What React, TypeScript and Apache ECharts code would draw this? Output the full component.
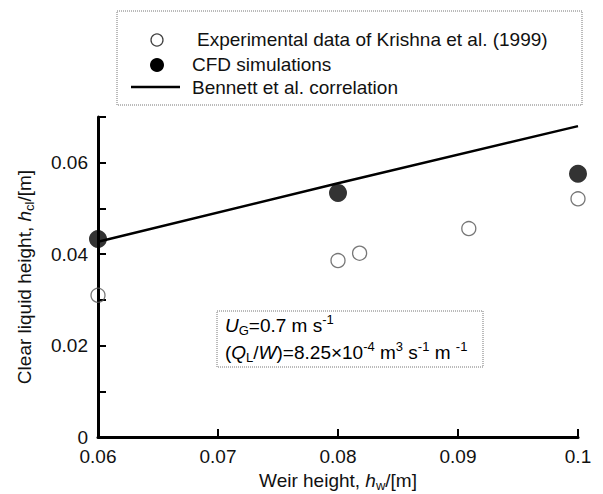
import React, { useEffect, useRef } from "react";
import * as echarts from "echarts";

const FONT = "'Liberation Sans', Arial, Helvetica, sans-serif";

const xTicks = [0.06, 0.07, 0.08, 0.09, 0.1];
const yTicks = [0, 0.01, 0.02, 0.03, 0.04, 0.05, 0.06, 0.07];

const experimentalX = [0.06, 0.08, 0.0818, 0.0909, 0.1];
const experimentalY = [0.031, 0.0386, 0.0402, 0.0456, 0.0521];

const cfdX = [0.06, 0.08, 0.1];
const cfdY = [0.0433, 0.0534, 0.0576];

const bennettX = [0.06, 0.08, 0.1];
const bennettY = [0.0427, 0.0555, 0.068];

const legendLabels = [
  "Experimental data of Krishna et al. (1999)",
  "CFD simulations",
  "Bennett et al. correlation",
];

const fmt = (v: number) => String(+v.toFixed(2));

export default function App() {
  const ref = useRef<HTMLDivElement>(null);
  useEffect(() => {
    if (!ref.current) return;
    const chart = echarts.init(ref.current, null, { renderer: "svg" });
    const base = { fontFamily: FONT, fontSize: 19, color: "#111" };
    const rich = {
      n: { ...base, lineHeight: 24 },
      i: { ...base, fontStyle: "italic", lineHeight: 24 },
      sub: { ...base, fontSize: 13, verticalAlign: "bottom", lineHeight: 13 },
      sup: { ...base, fontSize: 13, verticalAlign: "top", lineHeight: 13 },
    };
    chart.setOption({
      animation: false,
      backgroundColor: "#fff",
      grid: {
        left: 98,
        right: 25,
        top: 117,
        bottom: 57,
        containLabel: false,
        outerBoundsMode: "none",
      },
      xAxis: {
        type: "value",
        min: xTicks[0],
        max: xTicks[xTicks.length - 1],
        interval: 0.01,
        name: "{n|Weir height, }{i|h}{sub|w}{n|/[m]}",
        nameLocation: "middle",
        nameGap: 30,
        nameTextStyle: { rich },
        axisLine: { lineStyle: { color: "#000", width: 3 } },
        axisTick: { inside: true, length: 8, lineStyle: { color: "#000", width: 2 } },
        axisLabel: { ...base, margin: 10, formatter: (v: number) => fmt(v) },
        splitLine: { show: false },
      },
      yAxis: {
        type: "value",
        min: yTicks[0],
        max: yTicks[yTicks.length - 1],
        interval: 0.01,
        name: "{n|Clear liquid height, }{i|h}{sub|cl}{n|/[m]}",
        nameLocation: "middle",
        nameGap: 62,
        nameTextStyle: { rich },
        axisLine: { lineStyle: { color: "#000", width: 3 } },
        axisTick: { inside: true, length: 8, lineStyle: { color: "#000", width: 2 } },
        axisLabel: {
          ...base,
          margin: 10,
          formatter: (v: number) =>
            Math.round(v * 100) % 2 === 0 ? fmt(v) : "",
        },
        splitLine: { show: false },
      },
      series: [
        {
          name: legendLabels[2],
          type: "line",
          data: bennettX.map((x, k) => [x, bennettY[k]]),
          symbol: "none",
          lineStyle: { color: "#000", width: 2.5 },
          z: 2,
        },
        {
          name: legendLabels[0],
          type: "scatter",
          data: experimentalX.map((x, k) => [x, experimentalY[k]]),
          symbol: "circle",
          symbolSize: 14,
          clip: false,
          itemStyle: { color: "rgba(255,255,255,0)", borderColor: "#555", borderWidth: 1.3 },
          z: 3,
        },
        {
          name: legendLabels[1],
          type: "scatter",
          data: cfdX.map((x, k) => [x, cfdY[k]]),
          symbol: "circle",
          symbolSize: 18,
          clip: false,
          itemStyle: { color: "#000" },
          z: 4,
        },
      ],
      graphic: [
        {
          type: "rect",
          shape: { x: 117, y: 11, width: 465, height: 94 },
          style: { fill: "#fff", stroke: "#777", lineWidth: 1, lineDash: [1, 1] },
          z: 10,
        },
        {
          type: "circle",
          shape: { cx: 157, cy: 40, r: 6 },
          style: { fill: "#fff", stroke: "#444", lineWidth: 1.3 },
          z: 11,
        },
        {
          type: "text",
          x: 197,
          y: 39,
          style: { text: legendLabels[0], ...base, fill: "#111", verticalAlign: "middle" },
          z: 11,
        },
        {
          type: "circle",
          shape: { cx: 157, cy: 65, r: 7 },
          style: { fill: "#000" },
          z: 11,
        },
        {
          type: "text",
          x: 192,
          y: 64,
          style: { text: legendLabels[1], ...base, fill: "#111", verticalAlign: "middle" },
          z: 11,
        },
        {
          type: "line",
          shape: { x1: 131, y1: 87, x2: 180, y2: 87 },
          style: { stroke: "#000", lineWidth: 2.5 },
          z: 11,
        },
        {
          type: "text",
          x: 192,
          y: 87,
          style: { text: legendLabels[2], ...base, fill: "#111", verticalAlign: "middle" },
          z: 11,
        },
        {
          type: "rect",
          shape: { x: 217, y: 311, width: 266, height: 56 },
          style: { fill: "#fff", stroke: "#777", lineWidth: 1, lineDash: [1, 1] },
          z: 10,
        },
        {
          type: "text",
          x: 225,
          y: 325,
          style: {
            text: "{i|U}{sub|G}{n|=0.7 m s}{sup|-1}",
            rich,
            verticalAlign: "middle",
          },
          z: 11,
        },
        {
          type: "text",
          x: 225,
          y: 352,
          style: {
            text: "{n|(}{i|Q}{sub|L}{n|/}{i|W}{n|)=8.25×10}{sup|-4}{n| m}{sup|3}{n| s}{sup|-1}{n| m }{sup|-1}",
            rich,
            verticalAlign: "middle",
          },
          z: 11,
        },
      ],
    });
    return () => chart.dispose();
  }, []);
  return (
    <div
      ref={ref}
      style={{ position: "absolute", left: 0, top: 0, width: 603, height: 494 }}
    />
  );
}
